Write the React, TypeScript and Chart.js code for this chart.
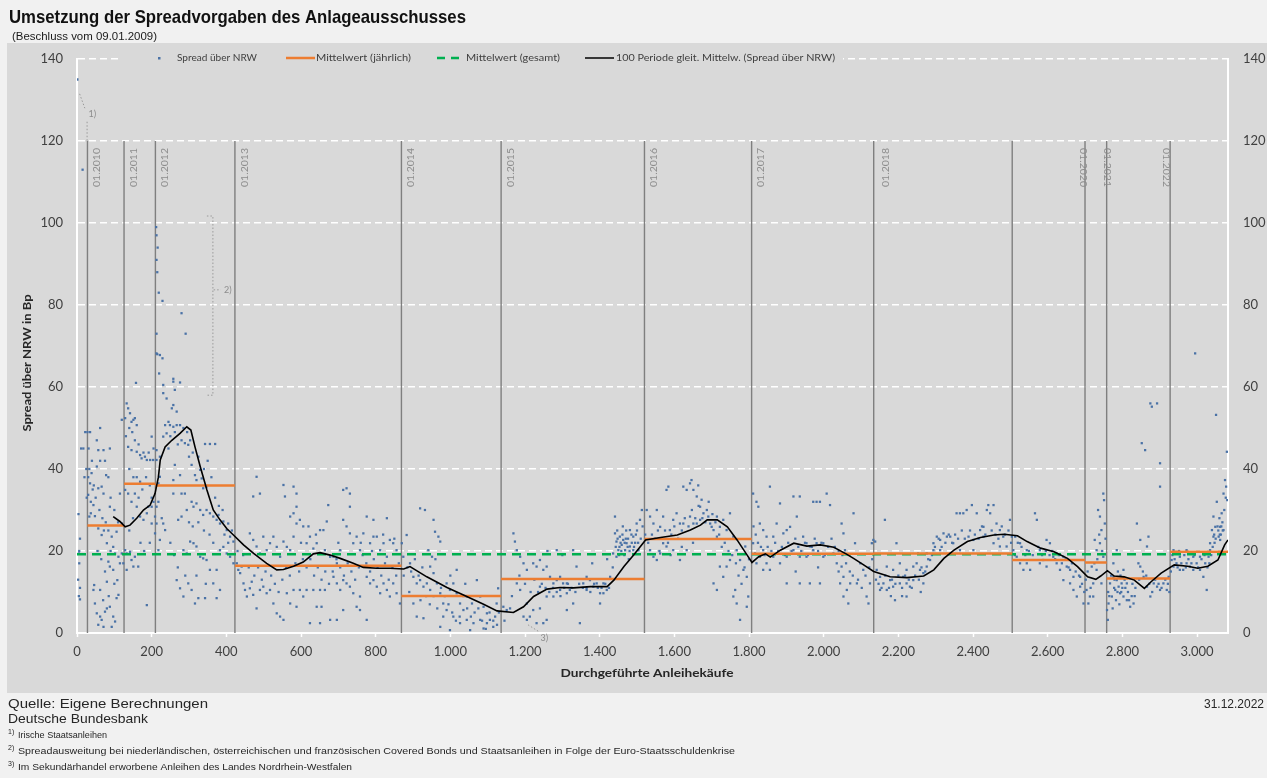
import React, { useEffect, useRef } from 'react';
import { Chart, registerables } from 'chart.js';
Chart.register(...registerables);

const W = 1277;
const H = 778;

// ---------- data ----------
const s2009 = [[1,135],[15,113],[4,29],[8,23],[6,20],[5,19.4],[6,17],[3,13],[8,11],[5,9],[8,8.2],[11,45],[17,45],[22,49],[25,40],[20,38],[26,33]];
const s2010 = [[28,49],[35,49],[33,40],[39,39],[30,38],[35,36.5],[42,35],[30,33.7],[37,32],[44,31.2],[37,29.2],[33,28.4],[48,28.5],[53,47],[57,44.6],[62,50],[53,40.6],[62,42],[71,44.6],[75,42],[88,45],[78,38.5],[84,38],[66,35.7],[57,35.3],[71,34],[88,30.8],[72,25],[84,25],[57,25.5],[66,23.9],[80,21.9],[93,23.5],[97,21],[102,19.4],[111,18.6],[120,19.4],[106,24.7],[115,17],[84,17.4],[88,16.2],[75,15],[80,12.5],[97,15.4],[108,12.9],[62,10.5],[48,7.2],[53,4.8],[62,4],[66,3.2],[75,5.2],[80,6],[88,6.4],[97,4],[102,2.8],[93,1.5],[71,1.5],[57,2],[106,8.5],[111,9.3],[44,10.5],[46,11.7],[115,34],[120,26.7],[120,52],[124,17],[31,45],[40,42],[45,36],[50,33],[60,30],[68,28],[77,27],[90,33],[100,30],[110,27],[55,20],[65,18],[90,20],[100,12],[70,8],[85,9]];
const s2011 = [[129,52.4],[133,56],[137,54.8],[142,53.6],[146,51.5],[151,52],[155,52.4],[160,50.7],[158,61],[137,45.4],[146,44.6],[155,47],[160,44.2],[169,43.4],[173,42.6],[182,43],[187,42.2],[196,42.2],[200,47.9],[204,42.2],[151,38],[160,38],[169,36.9],[129,34.9],[137,34],[146,32],[155,34],[160,30.8],[169,28.4],[178,27.6],[187,29.2],[191,30.8],[200,33],[205,32],[209,28.4],[129,20.2],[133,19.4],[142,19.8],[146,17.8],[155,18.6],[164,16.2],[133,15.4],[151,16.2],[187,6.8],[209,24.3],[200,26.7],[200,30.8],[131,48],[140,50],[148,49],[165,46],[178,44],[192,44],[140,40],[165,33],[175,35],[185,38],[195,36],[140,25],[150,28],[170,22],[180,20],[195,22],[205,45]];
const s2012 = [[212,99],[213,97],[216,94],[213,91],[215,88],[219,83],[229,81],[280,78],[291,73],[213,73],[215,68],[229,67],[213,68.2],[222,67.8],[220,63.3],[231,60.5],[231,58.5],[258,62],[258,61.3],[276,61.1],[262,59.3],[240,57.2],[254,54.8],[258,55.6],[267,54],[245,51.5],[236,50.7],[249,50.7],[258,50.3],[267,50.7],[276,50.7],[240,48.7],[280,47],[289,46.3],[298,45.9],[231,47.9],[213,44.6],[222,43],[213,42.2],[218,36.5],[218,32],[213,30.8],[222,38.1],[231,26.7],[236,25.1],[258,34],[280,34],[289,34],[262,41],[276,38.5],[258,37.3],[303,47],[307,41],[316,38.5],[320,37.3],[330,39.8],[334,37.7],[343,46.1],[356,46.1],[370,46.1],[338,35.3],[347,35.7],[307,32],[312,30.8],[320,31.6],[330,30],[338,28.8],[347,30],[356,29.2],[365,28.4],[374,27.6],[379,28.8],[383,26.7],[392,27.2],[401,25.1],[405,26.7],[410,23.5],[419,22.3],[294,30],[280,28.4],[271,27.6],[303,22.3],[312,21.9],[320,21.1],[330,18.6],[338,18.2],[347,17.8],[356,15.4],[374,15.4],[383,20.2],[392,21],[401,19.4],[410,18.6],[419,17],[285,20.2],[294,19.4],[267,12.9],[276,10.9],[285,8.9],[298,12.1],[307,10.5],[316,7.2],[325,8.5],[343,8.5],[365,12.1],[374,8.5],[383,10.5],[213,26.7],[222,22.7],[218,20.2],[227,28],[245,45],[250,48],[262,49],[270,46],[285,50],[295,49],[300,43],[310,44],[325,43],[340,40],[350,42],[360,38],[370,33],[380,31],[390,30],[395,24],[405,22],[415,25],[300,27],[310,26],[325,27],[340,25],[355,24],[365,22],[250,22],[260,19],[270,16],[290,14],[320,14],[345,12]];
const s2013 = [[428,17],[432,15.4],[437,14.6],[441,16.2],[446,12.1],[450,10.5],[455,8.9],[463,10.9],[468,12.5],[472,9.3],[481,6],[490,10.5],[499,11.3],[508,9.7],[517,10.5],[526,7.2],[535,4.8],[544,4],[553,3.2],[472,33.3],[481,38.1],[490,34],[499,23.5],[508,20.2],[517,21.9],[526,23.5],[535,21],[544,18.6],[463,24.3],[472,22.7],[481,21.1],[490,19.4],[553,22.3],[562,21],[571,20.2],[580,23.5],[588,26.7],[597,27.6],[606,26],[615,21.9],[624,23.5],[553,36.1],[557,33.3],[580,35.7],[588,34],[571,28.4],[580,29.2],[588,30.8],[562,9.7],[571,7.2],[580,10.5],[588,6.4],[597,10.5],[606,8.9],[615,10.5],[633,10.5],[642,6.4],[651,10.5],[655,6.4],[664,10.5],[624,2.4],[651,2.4],[633,20.6],[642,21.9],[651,25.1],[660,25.1],[669,27.2],[673,31.2],[664,20.2],[678,18.6],[687,13.7],[696,12.1],[705,10.5],[713,12.9],[722,12.1],[731,11.3],[740,9.7],[749,6.4],[758,8.9],[722,35.3],[731,34],[713,27.6],[722,26],[731,24.3],[740,21.9],[749,23.5],[758,20.2],[767,24.3],[776,28.4],[785,21.9],[794,23.5],[803,23.5],[812,20.2],[821,21.9],[830,18.6],[838,22.7],[847,21.9],[856,20.2],[687,18.6],[696,17],[705,20.2],[767,16.2],[776,13.7],[785,12.1],[794,12.9],[803,11.3],[812,9.7],[821,12.1],[830,10.5],[838,8.9],[847,12.1],[856,9.7],[865,7.2],[776,3.2],[758,5.6],[713,5.6],[696,3.2],[678,3.2],[713,34.9],[731,30.8],[794,27.6],[830,28],[430,20],[445,19],[460,16],[475,14],[485,16],[495,13],[505,15],[520,14],[530,12],[540,10],[550,13],[560,16],[570,14],[585,17],[595,15],[605,18],[615,16],[625,18],[635,14],[645,16],[655,13],[665,15],[675,12],[685,15],[695,18],[705,16],[715,14],[725,17],[735,15],[745,13],[755,16],[765,19],[775,17],[785,15],[795,18],[805,16],[815,14],[825,17],[835,13],[845,16],[855,14],[862,17],[600,22],[620,26],[640,24],[700,22],[760,22],[790,20],[820,24],[850,23]];
const s2014 = [[870,21.9],[874,18.6],[883,23.9],[892,17],[901,13.7],[910,12.1],[919,12.9],[928,11.3],[937,12.1],[946,10.5],[901,7.2],[910,4],[928,3.6],[919,30.4],[932,30],[955,27.6],[959,24.7],[968,23.5],[973,22.3],[946,16.2],[955,14.6],[964,12.1],[973,9.7],[981,7.2],[990,5.6],[999,10.5],[1008,12.1],[1017,9.7],[1026,7.2],[1035,5.6],[1044,3.2],[1053,0.7],[1062,2.4],[1071,12.9],[1080,8.9],[1089,6.4],[1098,4.8],[1106,3.2],[1115,1.5],[1124,7.2],[1128,10.9],[981,4],[1008,4],[1026,2.4],[1044,8.9],[1058,7.2],[990,12.1],[1017,15.4],[941,20.2],[951,18.6],[1080,3.2],[1098,2.4],[1120,4],[973,1.5],[999,0.7],[1089,1.1],[875,14],[885,16],[895,15],[905,18],[915,14],[925,16],[935,9],[945,7],[955,9],[965,6],[975,11],[985,9],[995,7],[1005,5],[1015,3],[1025,4],[1035,9],[1045,6],[1055,4],[1065,5],[1075,6],[1085,3],[1095,1],[1105,5],[1115,3],[1125,2],[1130,5],[890,10],[920,8],[960,18],[1000,14],[1040,12]];
const s2015 = [[1142,6.4],[1151,5.6],[1160,6],[1169,24.3],[1173,22.3],[1178,20.2],[1187,18.6],[1196,17],[1205,15.4],[1178,12.1],[1187,10.5],[1196,4],[1205,3.2],[1213,4],[1222,5.6],[1231,2.4],[1249,2.4],[1258,3.2],[1222,17],[1231,16.2],[1240,17.8],[1249,15.4],[1258,16.2],[1267,13.7],[1276,12.1],[1285,12.9],[1294,10.5],[1302,12.1],[1312,9.7],[1320,10.5],[1329,20.2],[1338,16.2],[1347,2.4],[1356,12.1],[1365,10.5],[1374,12.9],[1383,11.3],[1392,12.1],[1401,9.7],[1410,12.1],[1419,10.5],[1428,13.7],[1436,19.4],[1441,24.3],[1445,22.3],[1450,20.2],[1454,23.5],[1459,21.5],[1463,22.7],[1468,20.2],[1472,21.9],[1481,21.1],[1490,20.2],[1499,26.7],[1508,27.6],[1513,30],[1490,23.5],[1481,25.1],[1504,20.2],[1441,28.4],[1312,5.6],[1329,7.2],[1401,7.2],[1276,8.9],[1258,8.9],[1240,11.3],[1205,7.2],[1294,13.7],[1312,12.1],[1365,13.7],[1410,9.7],[1445,18.6],[1285,20.2],[1145,3],[1165,9],[1185,14],[1200,12],[1215,10],[1225,13],[1235,10],[1245,12],[1255,11],[1265,10],[1275,11],[1285,10],[1295,9],[1305,11],[1315,12],[1325,11],[1335,10],[1345,12],[1355,11],[1365,11],[1375,10],[1385,12],[1395,11],[1405,11],[1415,12],[1425,11],[1435,16],[1443,21],[1447,25],[1452,19],[1456,22],[1461,24],[1466,19],[1470,23],[1475,21],[1478,18],[1485,24],[1495,22],[1500,25],[1510,23],[1515,26],[1240,6],[1260,20],[1300,19],[1380,17],[1420,18],[1448,23],[1453,21],[1458,20],[1462,26],[1467,22],[1471,25],[1476,23],[1480,20],[1486,22],[1492,21],[1497,24],[1503,22]];
const s2016 = [[1526,30],[1535,28.4],[1544,26.7],[1553,30],[1562,25.9],[1570,28.4],[1579,34.9],[1584,35.7],[1588,25.1],[1597,27.6],[1606,29.2],[1615,26.7],[1624,35.7],[1633,34.9],[1642,36.5],[1646,37.3],[1651,34.9],[1660,33.3],[1664,36],[1669,30.8],[1673,32.5],[1678,29.2],[1687,30],[1696,26.7],[1705,25.1],[1714,23.5],[1722,25.9],[1731,27.6],[1740,25.1],[1749,29.2],[1758,23.5],[1767,20.2],[1776,17.8],[1785,15.4],[1794,13.7],[1705,12.1],[1714,10.5],[1722,16.2],[1731,13.7],[1740,16.2],[1749,17.8],[1758,8.9],[1767,7.2],[1776,3.2],[1794,6.4],[1798,8.9],[1535,20.2],[1544,18.6],[1553,17.8],[1562,19.4],[1570,21.9],[1579,21.1],[1597,20.2],[1615,17.8],[1633,20.2],[1651,26.7],[1669,27.6],[1714,28.4],[1624,26.7],[1642,28.4],[1660,26.7],[1691,28.4],[1700,25.9],[1763,10.5],[1790,21.1],[1522,24],[1530,22],[1540,24],[1548,23],[1556,25],[1566,23],[1575,25],[1583,22],[1592,24],[1600,26],[1610,23],[1620,25],[1628,28],[1638,26],[1647,30],[1656,28],[1665,31],[1675,28],[1683,27],[1692,32],[1702,29],[1710,27],[1720,24],[1727,21],[1735,22],[1745,20],[1755,19],[1765,17],[1772,14],[1780,12],[1788,16],[1800,18],[1560,20],[1590,19],[1620,21],[1650,22]];
const s2017 = [[1811,34],[1820,32],[1825,30.8],[1829,26.7],[1838,25.1],[1847,23.5],[1811,21.9],[1816,19.4],[1820,17],[1829,18.6],[1838,20.2],[1847,17],[1856,35.7],[1865,23.5],[1874,26.7],[1883,31.6],[1892,24.3],[1901,25.1],[1910,25.9],[1919,33.3],[1928,28.4],[1936,33.3],[1945,23.5],[1954,21.9],[1963,21.1],[1972,32],[1981,32],[1990,32],[1999,18.6],[2008,34],[2017,31.2],[2026,19.4],[2035,17],[2044,12.1],[2053,8.9],[2048,26.7],[2053,24.3],[1865,18.6],[1883,17],[1901,18.6],[1919,20.2],[1936,18.6],[1954,18.6],[1972,20.2],[1981,21.9],[1999,21.9],[1901,12.1],[1936,12.1],[1963,12.1],[1990,12.1],[1856,15.4],[1838,15.4],[2057,20.2],[2048,16.2],[2053,13.7],[2062,10.5],[2066,7.2],[2080,29.2],[2084,21.9],[2098,17],[2106,15.4],[2115,8.9],[2120,7.2],[2124,12.1],[2129,21.9],[2133,22.7],[2089,12.1],[2071,12.1],[1812,26],[1818,24],[1824,22],[1832,21],[1842,19],[1850,21],[1860,20],[1870,22],[1878,20],[1888,21],[1896,19],[1905,22],[1914,20],[1924,23],[1932,21],[1940,20],[1950,22],[1958,19],[1968,21],[1976,23],[1985,20],[1994,22],[2003,19],[2012,21],[2021,23],[2030,21],[2040,20],[2050,19],[2060,17],[2070,15],[2078,14],[2092,13],[2102,11],[2112,14],[2122,16],[2130,18],[1925,15],[1985,16],[2040,15]];
const s2018 = [[2138,22.3],[2142,15.4],[2151,13.7],[2160,12.1],[2169,10.5],[2164,27.6],[2178,12.9],[2186,11.3],[2191,8],[2195,21.9],[2204,12.1],[2213,13.7],[2222,12.1],[2231,11.3],[2240,12.9],[2249,17],[2253,19.4],[2258,15.4],[2267,14.6],[2276,16.2],[2285,17.8],[2294,20.2],[2303,23.5],[2312,22.7],[2321,24.3],[2330,23.5],[2339,23.5],[2347,21.9],[2356,29.2],[2365,29.2],[2374,29.2],[2383,30],[2388,23.5],[2397,31.2],[2401,22.7],[2410,29.2],[2419,25.1],[2428,25.9],[2437,30],[2441,31.2],[2446,29.2],[2455,31.2],[2463,26.7],[2472,25.1],[2481,23.5],[2490,21.1],[2499,27.6],[2504,23.5],[2169,16.2],[2186,15.4],[2204,17],[2222,15.4],[2240,16.2],[2267,12.1],[2276,19.4],[2294,21.9],[2312,20.2],[2339,19.4],[2365,20.2],[2401,20.2],[2428,23.5],[2455,21.9],[2472,21.1],[2151,10.5],[2222,8.9],[2140,13],[2147,12],[2155,11],[2165,14],[2175,11],[2183,13],[2192,12],[2200,14],[2210,11],[2218,14],[2228,13],[2236,11],[2245,14],[2255,13],[2262,16],[2272,15],[2280,18],[2290,19],[2298,21],[2308,23],[2316,21],[2326,22],[2335,24],[2344,22],[2352,24],[2360,23],[2370,25],[2378,23],[2392,25],[2405,24],[2415,23],[2424,26],[2433,24],[2450,25],[2460,24],[2468,23],[2477,26],[2486,24],[2495,25],[2502,22],[2180,9],[2210,9],[2260,10]];
const s2019 = [[2508,20.2],[2517,18.6],[2526,17],[2535,15.4],[2544,17],[2553,15.4],[2566,29.2],[2571,27.6],[2579,20.2],[2588,17.8],[2597,22.7],[2606,21.9],[2615,18.6],[2624,17],[2633,15.4],[2642,12.9],[2651,16.2],[2660,12.1],[2669,10.5],[2678,8.9],[2687,11.3],[2696,7.2],[2526,21.9],[2544,20.2],[2579,17],[2597,16.2],[2624,19.4],[2642,18.6],[2660,15.4],[2669,13.7],[2687,13.7],[2513,23.5],[2512,19],[2520,22],[2530,21],[2540,19],[2550,20],[2560,19],[2575,21],[2585,19],[2595,20],[2605,19],[2612,20],[2620,18],[2630,19],[2638,17],[2648,18],[2656,16],[2665,17],[2675,15],[2684,14],[2692,12],[2698,10]];
const s2020 = [[2704,10.5],[2713,8.9],[2722,12.1],[2726,22.7],[2731,20.2],[2735,30],[2740,28.4],[2744,25.1],[2749,34],[2751,32.4],[2753,26.7],[2709,7.2],[2722,8.9],[2731,15.4],[2740,21.9],[2749,18.6],[2718,16.2],[2744,12.1],[2702,13],[2707,15],[2715,11],[2725,17],[2733,18],[2738,24],[2746,20],[2755,23]];
const s2021 = [[2759,5.6],[2761,3.2],[2763,7.2],[2767,12.1],[2772,8.9],[2776,13.7],[2781,10.5],[2785,12.9],[2790,11.3],[2794,9.7],[2798,12.1],[2803,8.9],[2812,8],[2821,6.4],[2830,7.2],[2785,20.2],[2839,26.7],[2848,22.7],[2852,46.3],[2861,44.6],[2866,21.1],[2875,56],[2879,55.2],[2893,56],[2901,41.4],[2901,35.7],[2848,16.2],[2857,13.7],[2866,11.3],[2875,8.9],[2884,12.1],[2893,11.3],[2901,10.5],[2910,12.1],[2919,10.5],[2924,13.7],[2843,17],[2870,23.5],[2776,17],[2803,15.4],[2812,12.1],[2762,10],[2770,14],[2778,11],[2783,8],[2788,15],[2795,14],[2800,11],[2806,13],[2815,10],[2825,9],[2835,11],[2845,13],[2855,15],[2864,14],[2872,12],[2880,10],[2888,13],[2897,12],[2905,11],[2915,13],[2922,12],[2926,10],[2765,9],[2774,6],[2779,13],[2787,10],[2792,7],[2797,10],[2808,11],[2818,8],[2827,12],[2833,9]];
const s2022 = [[2932,17.8],[2937,16.2],[2945,17],[2954,18.6],[2963,15.4],[2972,17],[2981,16.2],[2990,18.6],[2995,68.2],[2999,17],[3008,15.4],[3017,13.7],[3026,10.5],[3031,18.6],[3035,21.9],[3040,25.1],[3044,28.4],[3049,25.9],[3053,32],[3051,53.2],[3058,23.5],[3062,25.9],[3066,29.2],[3071,34],[3075,37.3],[3078,35.7],[3080,44.2],[3081,32.4],[2937,20.2],[2954,15.4],[2972,20.2],[2990,15.4],[3008,18.6],[3022,17],[3035,20.2],[3044,23.5],[3062,22.7],[3071,25.1],[2930,15],[2934,19],[2940,18],[2948,16],[2952,20],[2958,17],[2966,19],[2970,16],[2977,18],[2985,17],[2993,19],[3003,16],[3012,18],[3020,19],[3028,16],[3033,17],[3038,19],[3042,21],[3047,22],[3055,26],[3060,28],[3064,24],[3068,27],[3073,30],[3077,33],[3046,24],[3050,23],[3057,25],[3061,24],[3065,26],[3069,25]];

// 100-period moving average [x, y]
const movingAvg = [[97,28.4],[115,27.2],[129,25.9],[142,26.3],[160,28],[178,30],[196,31.2],[209,34],[218,38],[223,42.2],[236,45.4],[254,47],[276,48.7],[294,50.3],[305,49.5],[316,45.4],[330,40.6],[348,34.9],[365,30],[383,27.6],[401,25.5],[419,23.9],[446,21.5],[473,19.4],[508,17],[535,15.4],[553,15.5],[580,16.3],[606,17.3],[633,19.3],[651,19.6],[678,19],[705,18.2],[740,17],[767,16],[803,15.8],[839,15.8],[875,15.6],[892,16.2],[937,13.7],[991,11.1],[1044,8.9],[1089,7],[1125,5.4],[1169,5],[1196,6.4],[1223,8.9],[1259,10.7],[1294,11.1],[1330,11],[1375,11.3],[1420,11.3],[1438,12.9],[1465,16.2],[1491,19],[1523,22.7],[1563,23.3],[1608,23.9],[1643,25.1],[1670,26.3],[1688,27.6],[1715,27.6],[1742,25.9],[1768,22.7],[1795,19],[1808,17.2],[1826,18.6],[1844,19.3],[1857,18.5],[1884,20.2],[1920,21.9],[1955,21.2],[1991,21.5],[2027,20.9],[2060,19.3],[2080,18.2],[2107,16.6],[2134,15],[2178,13.7],[2223,13.5],[2268,13.9],[2295,15.4],[2322,18.2],[2349,20.2],[2385,22.3],[2420,23.3],[2456,23.9],[2483,24.1],[2519,23.7],[2545,22.3],[2581,20.7],[2617,19.8],[2653,18.2],[2680,16.2],[2707,13.7],[2729,13.1],[2742,13.9],[2760,15.2],[2778,13.9],[2805,13.7],[2832,12.9],[2859,10.9],[2877,12.5],[2904,14.6],[2939,16.6],[2975,16.3],[3002,15.8],[3029,16.3],[3056,17.8],[3074,21.5],[3083,22.7]];

// yearly means
const yearStart = [28, 126, 210, 423, 869, 1136, 1520, 1807, 2134, 2505, 2700, 2758, 2928];
const yearEnd = [126, 210, 423, 869, 1136, 1520, 1807, 2134, 2505, 2700, 2758, 2928, 3083];
const yearMean = [26.2, 36.4, 36.0, 16.4, 9.0, 13.2, 22.9, 19.3, 19.4, 17.8, 17.2, 13.3, 19.8];
const overallMean = 19.2;

// year separators
const yearLineX = [28, 126, 210, 423, 869, 1136, 1520, 1807, 2134, 2505, 2700, 2758, 2928];
const yearLabels = ['01.2010', '01.2011', '01.2012', '01.2013', '01.2014', '01.2015', '01.2016', '01.2017', '01.2018', '', '01.2020', '01.2021', '01.2022'];
const yearLineTop = 120;

// footnote markers [x, y] in data units
const note1Path = [[7, 131.5], [21, 128]];
const note1Stem = [[27, 124.7], [27, 119.8]];
const note1Label = [31, 126.5];
const note2Bracket = [[348, 101.7], [364, 101.7], [364, 58], [348, 58]];
const note2Lead = [[366, 83.7], [385, 83.7]];
const note2Label = [404, 83.7];
const note3Lead = [[1208, 2], [1236, 0.4]];
const note3Label = [1252, -0.6];

const xMax = 3083;
const yMax = 140;

const COLORS = {
  dots: '#4a72a6',
  yearly: '#ed7d31',
  overall: '#00b050',
  ma: '#000000',
  sep: '#7f7f7f',
  text: '#404040',
};

const fmtDe = (v: number) => {
  const n = Math.round(v);
  if (n >= 1000) return Math.floor(n / 1000) + '.' + String(n % 1000).padStart(3, '0');
  return String(n);
};

function txt(ctx: CanvasRenderingContext2D, s: string, x: number, y: number, font: string, color: string, w?: number, align: CanvasTextAlign = 'left') {
  ctx.save();
  ctx.font = font;
  ctx.fillStyle = color;
  ctx.textAlign = align;
  ctx.textBaseline = 'middle';
  const mw = ctx.measureText(s).width;
  ctx.translate(x, y);
  if (w) ctx.scale(w / mw, 1);
  ctx.fillText(s, 0, 0);
  ctx.restore();
}

function dotted(ctx: CanvasRenderingContext2D, pts: number[][], xs: any, ys: any) {
  ctx.save();
  ctx.strokeStyle = '#9a9a9a';
  ctx.lineWidth = 1;
  ctx.setLineDash([1.5, 2]);
  ctx.beginPath();
  pts.forEach(([x, y], i) => {
    const px = xs.getPixelForValue(x);
    const py = ys.getPixelForValue(y);
    if (i === 0) ctx.moveTo(px, py); else ctx.lineTo(px, py);
  });
  ctx.stroke();
  ctx.restore();
}

const decor = {
  id: 'decor',
  beforeDraw(chart: any) {
    const ctx = chart.ctx as CanvasRenderingContext2D;
    ctx.save();
    ctx.fillStyle = '#ffffff';
    ctx.fillRect(0, 0, W, H);
    ctx.fillStyle = '#f1f1f1';
    ctx.fillRect(0, 0, 1267, H);
    ctx.fillStyle = '#d9d9d9';
    ctx.fillRect(7, 43, 1260, 650);
    ctx.restore();
  },
  afterDraw(chart: any) {
    const ctx = chart.ctx as CanvasRenderingContext2D;
    const xs = chart.scales.x;
    const ys = chart.scales.y;

    // year labels
    yearLabels.forEach((lab, i) => {
      if (!lab) return;
      const px = xs.getPixelForValue(yearLineX[i]);
      const top = ys.getPixelForValue(yearLineTop) + 7;
      ctx.save();
      ctx.font = '10px Lato';
      ctx.fillStyle = '#8c8c8c';
      ctx.textBaseline = 'middle';
      const mw = ctx.measureText(lab).width;
      const sc = 39 / mw;
      if (i < 9) {
        ctx.translate(px + (i === 8 ? 12 : 9.5), top);
        ctx.rotate(-Math.PI / 2);
        ctx.scale(sc, 1);
        ctx.textAlign = 'right';
      } else {
        const dx = i === 10 ? -2 : i === 11 ? 1 : -4;
        ctx.translate(px + dx, top);
        ctx.rotate(Math.PI / 2);
        ctx.scale(sc, 1);
        ctx.textAlign = 'left';
      }
      ctx.fillText(lab, 0, 0);
      ctx.restore();
    });

    // footnote markers
    dotted(ctx, note1Path, xs, ys);
    dotted(ctx, note1Stem, xs, ys);
    dotted(ctx, note2Bracket, xs, ys);
    dotted(ctx, note2Lead, xs, ys);
    dotted(ctx, note3Lead, xs, ys);
    const small = '9px Lato';
    txt(ctx, '1)', xs.getPixelForValue(note1Label[0]), ys.getPixelForValue(note1Label[1]), small, '#8c8c8c');
    txt(ctx, '2)', xs.getPixelForValue(note2Label[0]), ys.getPixelForValue(note2Label[1]), small, '#8c8c8c', undefined, 'center');
    txt(ctx, '3)', xs.getPixelForValue(note3Label[0]), ys.getPixelForValue(note3Label[1]) + 3, small, '#8c8c8c', undefined, 'center');

    // legend
    const ly = 58;
    ctx.save();
    ctx.fillStyle = '#d9d9d9';
    ctx.fillRect(118, ly - 6, 725, 12);
    ctx.fillStyle = COLORS.dots;
    ctx.fillRect(158, ly - 1, 2.5, 2.5);
    ctx.lineCap = 'butt';
    ctx.strokeStyle = COLORS.yearly;
    ctx.lineWidth = 2.5;
    ctx.beginPath(); ctx.moveTo(286, ly); ctx.lineTo(315, ly); ctx.stroke();
    ctx.strokeStyle = COLORS.overall;
    ctx.setLineDash([8, 6]);
    ctx.beginPath(); ctx.moveTo(437, ly); ctx.lineTo(460, ly); ctx.stroke();
    ctx.setLineDash([]);
    ctx.strokeStyle = COLORS.ma;
    ctx.lineWidth = 1.5;
    ctx.beginPath(); ctx.moveTo(585, ly); ctx.lineTo(614, ly); ctx.stroke();
    ctx.restore();
    const lf = '10px Lato';
    txt(ctx, 'Spread über NRW', 177, ly, lf, COLORS.text, 80);
    txt(ctx, 'Mittelwert (jährlich)', 316, ly, lf, COLORS.text, 95);
    txt(ctx, 'Mittelwert (gesamt)', 466, ly, lf, COLORS.text, 94);
    txt(ctx, '100 Periode gleit. Mittelw. (Spread über NRW)', 616, ly, lf, COLORS.text, 219);

    // axis titles
    ctx.save();
    ctx.translate(27, 363);
    ctx.rotate(-Math.PI / 2);
    txt(ctx, 'Spread über NRW in Bp', 0, 0, 'bold 11px Lato', '#262626', 137, 'center');
    ctx.restore();
    txt(ctx, 'Durchgeführte Anleihekäufe', 647, 673, 'bold 12px Lato', '#262626', 173, 'center');

    // title & footer
    txt(ctx, 'Umsetzung der Spreadvorgaben des Anlageausschusses', 9, 17.5, 'bold 18.5px "Liberation Sans"', '#111111', 457);
    txt(ctx, '(Beschluss vom 09.01.2009)', 12, 37.5, '10px "Liberation Sans"', '#1a1a1a', 145);
    txt(ctx, 'Quelle: Eigene Berechnungen', 8, 704, '13px "Liberation Sans"', '#262626', 200);
    txt(ctx, 'Deutsche Bundesbank', 8, 719, '13px "Liberation Sans"', '#262626', 140);
    txt(ctx, '31.12.2022', 1264, 705, '12px "Liberation Sans"', '#262626', 60, 'right');
    const notes = [
      ['1)', 'Irische Staatsanleihen', 89],
      ['2)', 'Spreadausweitung bei niederländischen, österreichischen und französischen Covered Bonds und Staatsanleihen in Folge der Euro-Staatsschuldenkrise', 717],
      ['3)', 'Im Sekundärhandel erworbene Anleihen des Landes Nordrhein-Westfalen', 334],
    ];
    notes.forEach(([sup, s, w], i) => {
      const y = 735 + i * 16;
      txt(ctx, sup as string, 8, y - 3, '7px "Liberation Sans"', '#262626');
      txt(ctx, s as string, 18, y, '9.5px "Liberation Sans"', '#262626', w as number);
    });
  },
};

export default function App() {
  const ref = useRef<HTMLCanvasElement>(null);
  useEffect(() => {
    const canvas = ref.current;
    if (!canvas) return;
    const toPts = (arr: number[][]) => arr.map(([x, y]) => ({ x, y }));
    const dots = toPts([...s2009, ...s2010, ...s2011, ...s2012, ...s2013, ...s2014, ...s2015, ...s2016, ...s2017, ...s2018, ...s2019, ...s2020, ...s2021, ...s2022]);
    const yearly: any[] = [];
    yearStart.forEach((s, i) => {
      yearly.push({ x: s, y: yearMean[i] }, { x: yearEnd[i], y: yearMean[i] }, { x: yearEnd[i], y: null });
    });
    const seps: any[] = [];
    yearLineX.forEach((x) => seps.push({ x, y: 0 }, { x, y: yearLineTop }, { x, y: null }));

    const chart = new Chart(canvas, {
      type: 'scatter',
      data: {
        datasets: [
          { type: 'line', label: '100 Periode gleit. Mittelw. (Spread über NRW)', data: toPts(movingAvg), borderColor: COLORS.ma, borderWidth: 1.6, pointRadius: 0, tension: 0, fill: false } as any,
          { type: 'line', label: 'Mittelwert (jährlich)', data: yearly, borderColor: COLORS.yearly, borderWidth: 2.5, pointRadius: 0, spanGaps: false, fill: false } as any,
          { type: 'line', label: 'Mittelwert (gesamt)', data: [{ x: 0, y: overallMean }, { x: xMax, y: overallMean }], borderColor: COLORS.overall, borderWidth: 2.5, borderDash: [9, 6], pointRadius: 0, fill: false } as any,
          { type: 'scatter', label: 'Spread über NRW', data: dots, pointStyle: 'rect', pointRadius: 1.6, backgroundColor: COLORS.dots, borderWidth: 0 } as any,
          { type: 'line', label: 'sep', data: seps, borderColor: COLORS.sep, borderWidth: 1.4, pointRadius: 0, spanGaps: false, fill: false } as any,
        ],
      },
      options: {
        animation: false,
        responsive: false,
        devicePixelRatio: 1,
        layout: { padding: { left: 8, right: 10, top: 59, bottom: 86 } },
        plugins: { legend: { display: false }, tooltip: { enabled: false } },
        scales: {
          x: {
            type: 'linear',
            min: 0,
            max: xMax,
            afterFit: (s: any) => { s.height = 59; },
            grid: { display: true, drawOnChartArea: false, color: 'rgba(0,0,0,0)', tickColor: '#ffffff', tickLength: 4, tickWidth: 1.5 },
            border: { display: true, color: '#ffffff', width: 2 },
            ticks: { stepSize: 200, includeBounds: false, padding: 7, color: COLORS.text, font: { family: 'Lato', size: 13 }, maxRotation: 0, autoSkip: false, callback: (v: any) => fmtDe(Number(v)) },
          },
          y: {
            type: 'linear',
            position: 'left',
            min: 0,
            max: yMax,
            afterFit: (s: any) => { s.width = 69; },
            grid: { color: '#ffffff', lineWidth: 1.5, drawTicks: false },
            border: { display: true, color: '#ffffff', width: 2, dash: [7, 4] },
            ticks: { stepSize: 20, padding: 14, color: COLORS.text, font: { family: 'Lato', size: 13 } },
          },
          y2: {
            type: 'linear',
            position: 'right',
            min: 0,
            max: yMax,
            afterFit: (s: any) => { s.width = 39; },
            grid: { display: false, drawTicks: false },
            border: { display: true, color: '#ffffff', width: 2 },
            ticks: { stepSize: 20, padding: 15, color: COLORS.text, font: { family: 'Lato', size: 13 } },
          },
        },
      },
      plugins: [decor],
    });
    return () => chart.destroy();
  }, []);

  return (
    <div style={{ position: 'absolute', left: 0, top: 0, width: W, height: H, background: '#ffffff' }}>
      <canvas ref={ref} width={W} height={H} style={{ display: 'block', width: W, height: H }} />
    </div>
  );
}
